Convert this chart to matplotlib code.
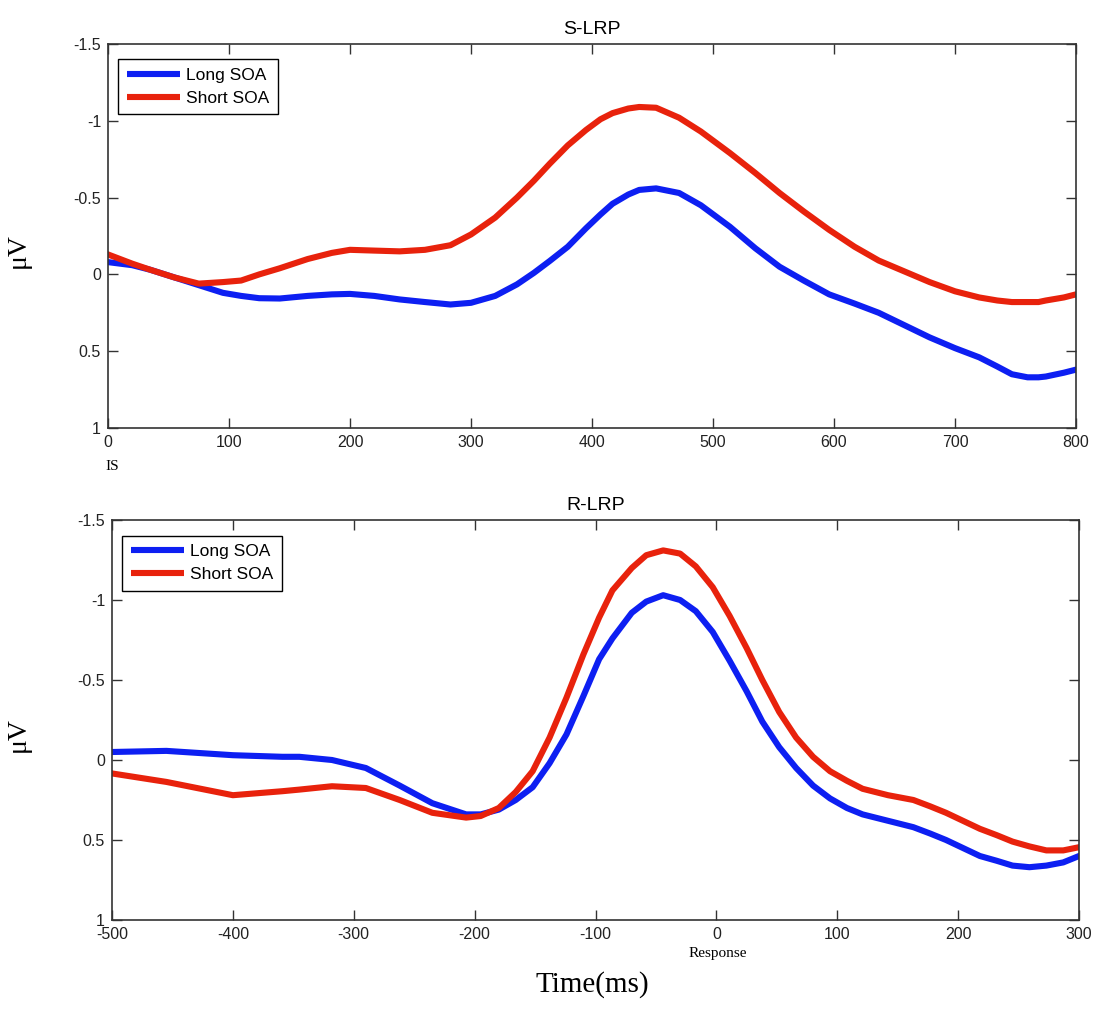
import matplotlib
matplotlib.use("Agg")
import matplotlib.pyplot as plt

# ---------------- data ----------------
s_time = [0, 20, 35, 55, 75, 95, 110, 125, 142, 165, 185, 200, 220, 241, 262, 283, 300, 320, 338, 352, 365, 380, 395, 407,
          417, 430, 439, 453, 472, 490, 514, 535, 555, 575, 596, 617, 637, 658, 679, 700, 720, 735, 747, 760, 769, 775, 790, 800]
s_long = [-0.08, -0.06, -0.03, 0.02, 0.07, 0.12, 0.14, 0.155, 0.157, 0.14, 0.13, 0.127, 0.14, 0.163, 0.18, 0.196, 0.185, 0.14,
          0.065, -0.01, -0.087, -0.18, -0.30, -0.39, -0.46, -0.52, -0.55, -0.56, -0.53, -0.45, -0.31, -0.17, -0.05, 0.04, 0.13, 0.19,
          0.25, 0.33, 0.41, 0.48, 0.54, 0.60, 0.65, 0.67, 0.67, 0.665, 0.64, 0.62]
s_short = [-0.13, -0.07, -0.03, 0.02, 0.06, 0.05, 0.04, 0.00, -0.04, -0.10, -0.14, -0.16, -0.155, -0.15, -0.16, -0.19, -0.26, -0.37,
           -0.50, -0.61, -0.72, -0.84, -0.94, -1.01, -1.05, -1.08, -1.09, -1.085, -1.02, -0.93, -0.79, -0.66, -0.53, -0.41, -0.29, -0.18,
           -0.09, -0.02, 0.05, 0.11, 0.15, 0.17, 0.18, 0.18, 0.18, 0.17, 0.15, 0.13]

r_time = [-500, -455, -400, -359, -345, -318, -290, -262, -235, -207, -195, -180, -166, -152, -138, -124, -110, -97, -86,
          -70, -58, -44, -30, -17, -3, 11, 25, 38, 52, 66, 80, 94, 108, 121, 142, 163, 177, 190, 204, 218, 232, 245, 259,
          273, 287, 300]
r_long = [-0.05, -0.057, -0.03, -0.02, -0.02, 0.00, 0.05, 0.16, 0.27, 0.34, 0.34, 0.31, 0.25, 0.17, 0.02, -0.16, -0.40, -0.63,
          -0.76, -0.92, -0.99, -1.03, -1.00, -0.93, -0.80, -0.62, -0.43, -0.24, -0.08, 0.05, 0.16, 0.24, 0.30, 0.34, 0.38, 0.42,
          0.46, 0.50, 0.55, 0.60, 0.63, 0.66, 0.67, 0.66, 0.64, 0.60]
r_short = [0.084, 0.137, 0.22, 0.195, 0.185, 0.164, 0.175, 0.25, 0.33, 0.36, 0.35, 0.30, 0.20, 0.07, -0.14, -0.39, -0.66, -0.89,
           -1.06, -1.20, -1.28, -1.31, -1.29, -1.21, -1.08, -0.90, -0.70, -0.50, -0.30, -0.14, -0.02, 0.07, 0.13, 0.18, 0.22, 0.25,
           0.29, 0.33, 0.38, 0.43, 0.47, 0.51, 0.54, 0.565, 0.565, 0.545]

series_names = ["Long SOA", "Short SOA"]
titles = ["S-LRP", "R-LRP"]
y_ticks = [-1.5, -1, -0.5, 0, 0.5, 1]
y_tick_labels = ["-1.5", "-1", "-0.5", "0", "0.5", "1"]
s_xticks = [0, 100, 200, 300, 400, 500, 600, 700, 800]
r_xticks = [-500, -400, -300, -200, -100, 0, 100, 200, 300]

# ---------------- style ----------------
BLUE = "#0d1ff2"
RED = "#e8220c"
SANS = ["Liberation Sans", "DejaVu Sans"]
SERIF = ["Liberation Serif", "DejaVu Serif"]

fig = plt.figure(figsize=(10.99, 10.13), dpi=100)
ax1 = fig.add_axes([108 / 1099, 1 - 428 / 1013, 968 / 1099, 384 / 1013])
ax2 = fig.add_axes([112 / 1099, 1 - 920 / 1013, 967 / 1099, 400 / 1013])


def style(ax, xticks, title, xlim, width_px, left_px):
    ax.set_xlim(*xlim)
    ax.set_ylim(1, -1.5)
    ax.set_yticks(y_ticks)
    ax.set_yticklabels(y_tick_labels, family=SANS, fontsize=11.5, color="#222222")
    ax.set_xticks(xticks)
    ax.set_xticklabels([str(t) for t in xticks], family=SANS, fontsize=11.5, color="#222222")
    ax.tick_params(direction="in", top=True, right=True, length=7, width=1, color="#333333", pad=5)
    for sp in ax.spines.values():
        sp.set_linewidth(1.2)
        sp.set_color("#333333")
    ax.set_title(title, family=SANS, fontsize=14, pad=7)
    ax.set_ylabel("μV", family=SERIF, fontsize=20)
    ax.yaxis.set_label_coords((31 - left_px) / width_px, 0.463)
    leg = ax.legend(loc="upper left", bbox_to_anchor=(0.0103, 0.961), fancybox=False, framealpha=1,
                    edgecolor="black", prop={"family": SANS, "size": 12.5}, handlelength=3.1,
                    handletextpad=0.3, borderpad=0.5, labelspacing=0.45, borderaxespad=0)
    leg.get_frame().set_linewidth(1.0)
    for h in leg.get_lines():
        h.set_solid_capstyle("butt")


LW = 4.4
ax1.plot(s_time, s_long, color=BLUE, lw=LW, label=series_names[0], solid_joinstyle="round")
ax1.plot(s_time, s_short, color=RED, lw=LW, label=series_names[1], solid_joinstyle="round")
style(ax1, s_xticks, titles[0], (0, 800), 968, 108)

ax2.plot(r_time, r_long, color=BLUE, lw=LW, label=series_names[0], solid_joinstyle="round")
ax2.plot(r_time, r_short, color=RED, lw=LW, label=series_names[1], solid_joinstyle="round")
style(ax2, r_xticks, titles[1], (-500, 300), 967, 112)

fig.text(112 / 1099, 1 - 466 / 1013, "IS", family=SERIF, fontsize=11, ha="center", va="center")
fig.text(718 / 1099, 1 - 953 / 1013, "Response", family=SERIF, fontsize=11, ha="center", va="center")
fig.text(592 / 1099, 1 - 985 / 1013, "Time(ms)", family=SERIF, fontsize=21, ha="center", va="center")

fig.savefig("out.png", dpi=100)
